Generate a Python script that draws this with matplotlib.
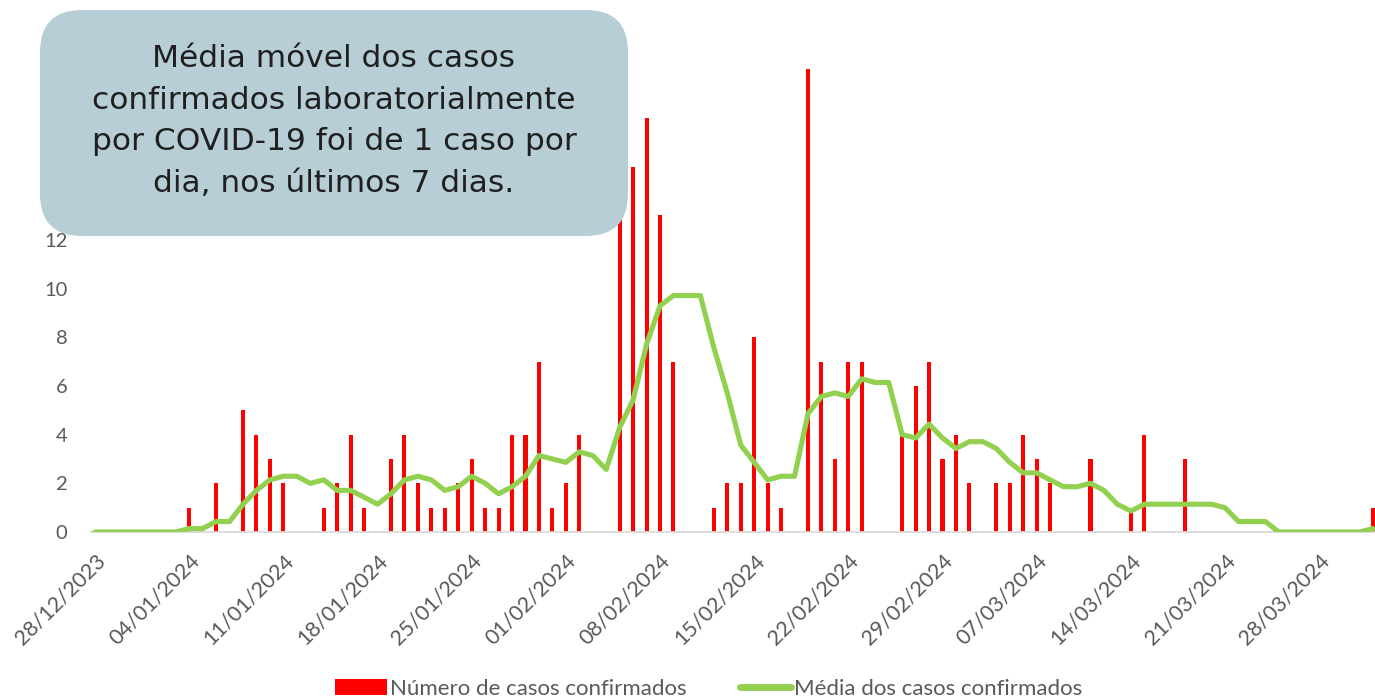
import numpy as np
import pandas as pd
import matplotlib
matplotlib.use("Agg")
import matplotlib.pyplot as plt
import matplotlib.dates as mdates
from matplotlib.patches import FancyBboxPatch

# Daily confirmed cases, 28/12/2023 .. 01/04/2024
dates = pd.date_range("2023-12-28", "2024-04-01", freq="D")
cases = [0, 0, 0, 0, 0, 0, 0, 1, 0, 2,
         0, 5, 4, 3, 2, 0, 0, 1, 2, 4,
         1, 0, 3, 4, 2, 1, 1, 2, 3, 1,
         1, 4, 4, 7, 1, 2, 4, 0, 0, 16,
         15, 17, 13, 7, 0, 0, 1, 2, 2, 8,
         2, 1, 0, 19, 7, 3, 7, 7, 0, 0,
         4, 6, 7, 3, 4, 2, 0, 2, 2, 4,
         3, 2, 0, 0, 3, 0, 0, 1, 4, 0,
         0, 3, 0, 0, 0, 0, 0, 0, 0, 0,
         0, 0, 0, 0, 0, 1]

# 7-day moving average
media = [0, 0, 0, 0, 0, 0, 0, 0.14, 0.14, 0.43,
         0.43, 1.14, 1.71, 2.14, 2.29, 2.29, 2.0, 2.14, 1.71, 1.71,
         1.43, 1.14, 1.57, 2.14, 2.29, 2.14, 1.71, 1.86, 2.29, 2.0,
         1.57, 1.86, 2.29, 3.14, 3.0, 2.86, 3.29, 3.14, 2.57, 4.29,
         5.43, 7.71, 9.29, 9.71, 9.71, 9.71, 7.57, 5.71, 3.57, 2.86,
         2.14, 2.29, 2.29, 4.86, 5.57, 5.71, 5.57, 6.29, 6.14, 6.14,
         4.0, 3.86, 4.43, 3.86, 3.43, 3.71, 3.71, 3.43, 2.86, 2.43,
         2.43, 2.14, 1.86, 1.86, 2.0, 1.71, 1.14, 0.86, 1.14, 1.14,
         1.14, 1.14, 1.14, 1.14, 1.0, 0.43, 0.43, 0.43, 0, 0,
         0, 0, 0, 0, 0, 0.14]

caixa_texto = ("Média móvel dos casos\n"
               "confirmados laboratorialmente\n"
               "por COVID-19 foi de 1 caso por\n"
               "dia, nos últimos 7 dias.")

W, H = 1375, 700
fig = plt.figure(figsize=(W / 100, H / 100), dpi=100)
ax = fig.add_axes([91 / W, (H - 532) / H, (W - 91) / W, (532 - 45) / H])

x = mdates.date2num(dates)
barras = ax.bar(x, cases, width=0.3, color="#ff0000", zorder=2)
linha, = ax.plot(x, media, color="#92d050", lw=3.7, solid_joinstyle="round",
                 solid_capstyle="round", zorder=3)

ax.set_xlim(x[0] - 0.3, x[-1] + 0.15)
ax.set_ylim(0, 20)
ax.set_yticks(np.arange(0, 21, 2))
ax.set_xticks(x[::7])
ax.xaxis.set_major_formatter(mdates.DateFormatter("%d/%m/%Y"))

for s in ["top", "right", "left"]:
    ax.spines[s].set_visible(False)
ax.spines["bottom"].set_color("#d9d9d9")
ax.spines["bottom"].set_linewidth(1.3)

ax.tick_params(axis="both", length=0)
ax.tick_params(axis="y", pad=17)
ax.tick_params(axis="x", pad=13)
for t in ax.get_yticklabels():
    t.set(family=["Lato", "DejaVu Sans"], size=14.5, color="#595959")
for t in ax.get_xticklabels():
    t.set(family=["Lato", "DejaVu Sans"], size=15.5, color="#595959")
    t.set_rotation(45)
    t.set_ha("right")
    t.set_rotation_mode("anchor")

# text box in the upper left corner (inches)
box = FancyBboxPatch((0.40, (H - 236) / 100), 5.88, 2.26,
                     boxstyle="round,pad=0,rounding_size=0.42",
                     transform=fig.dpi_scale_trans, facecolor="#b7ced6",
                     edgecolor="none", zorder=10)
fig.patches.append(box)
fig.text(334 / W, (H - 121) / H, caixa_texto, ha="center", va="center",
         fontsize=22.5, family="DejaVu Sans", color="#1f1f1f",
         linespacing=1.55, zorder=11)

from matplotlib.lines import Line2D
leg_linha = Line2D([], [], color="#92d050", lw=5, solid_capstyle="round")
leg = fig.legend([barras, leg_linha],
                 ["Número de casos confirmados", "Média dos casos confirmados"],
                 loc="center", bbox_to_anchor=(709 / W, (H - 689) / H),
                 ncol=2, frameon=False, handlelength=2.3, handleheight=0.7,
                 columnspacing=2.4, handletextpad=0.15,
                 prop=dict(family=["Lato", "DejaVu Sans"], size=16))
for t in leg.get_texts():
    t.set_color("#595959")

fig.savefig("out.png", dpi=100)
